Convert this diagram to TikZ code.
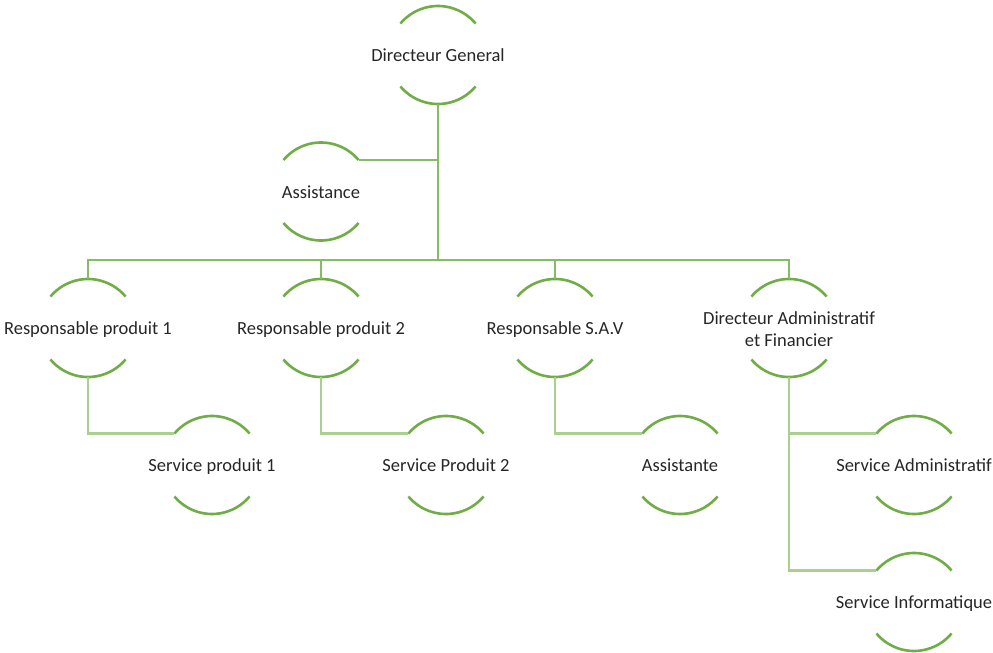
\documentclass[tikz,border=0pt]{standalone}
\usepackage{fontspec}
\setmainfont{Carlito}
\definecolor{arcgreen}{HTML}{70AD47}
\definecolor{topline}{HTML}{86BC66}
\definecolor{lowline}{HTML}{A9D08E}
\begin{document}
\begin{tikzpicture}[x=1pt,y=1pt,
  ring/.style={circle,minimum size=98pt,inner sep=0pt,outer sep=0pt},
  lbl/.style={font=\fontsize{18.5}{22}\selectfont,text=black!85,align=center,inner sep=0pt},
  arcline/.style={draw=arcgreen,line width=2.6pt},
  topconn/.style={draw=topline,line width=2.4pt},
  lowconn/.style={draw=lowline,line width=2.4pt}]
\useasboundingbox (0,0) rectangle (993,-653);
% circles (invisible), text and arcs
\foreach \n/\x/\y/\t in {dg/438/-55/{Directeur General},
  as/321/-191.5/{Assistance},
  ra/88/-328/{Responsable produit 1},
  rb/321/-328/{Responsable produit 2},
  rc/555/-328/{Responsable S.A.V},
  sa/212/-465/{Service produit 1},
  sb/446/-465/{Service Produit 2},
  sc/680/-465/{Assistante},
  sd/914/-465/{Service Administratif},
  se/914/-602/{Service Informatique}}{
  \node[ring] (\n) at (\x,\y) {};
  \node[lbl,anchor=base] (\n-t) at ([yshift=-6.5pt]\n.center) {\t};
  \draw[arcline] (\n.40) arc[start angle=40,end angle=140,radius=49pt];
  \draw[arcline] (\n.220) arc[start angle=220,end angle=320,radius=49pt];
}
\node[ring] (rd) at (789,-328) {};
\node[lbl] (rd-t) at ([yshift=-1pt]rd.center) {Directeur Administratif\\et Financier};
\draw[arcline] (rd.40) arc[start angle=40,end angle=140,radius=49pt];
\draw[arcline] (rd.220) arc[start angle=220,end angle=320,radius=49pt];
\coordinate (bus) at (0,-260);
% top-level connectors
\draw[topconn] (dg.south) -- (dg.south |- bus);
\draw[topconn] (as.40) -- (as.40 -| dg.south);
\draw[topconn] (ra.north) -- (ra.north |- bus) -- (rd.north |- bus) -- (rd.north);
\draw[topconn] (rb.north) -- (rb.north |- bus);
\draw[topconn] (rc.north) -- (rc.north |- bus);
% lower connectors
\draw[lowconn] (ra.south) |- (sa.140);
\draw[lowconn] (rb.south) |- (sb.140);
\draw[lowconn] (rc.south) |- (sc.140);
\draw[lowconn] (rd.south) |- (sd.140);
\draw[lowconn] (rd.south) |- (se.140);
\end{tikzpicture}
\end{document}
